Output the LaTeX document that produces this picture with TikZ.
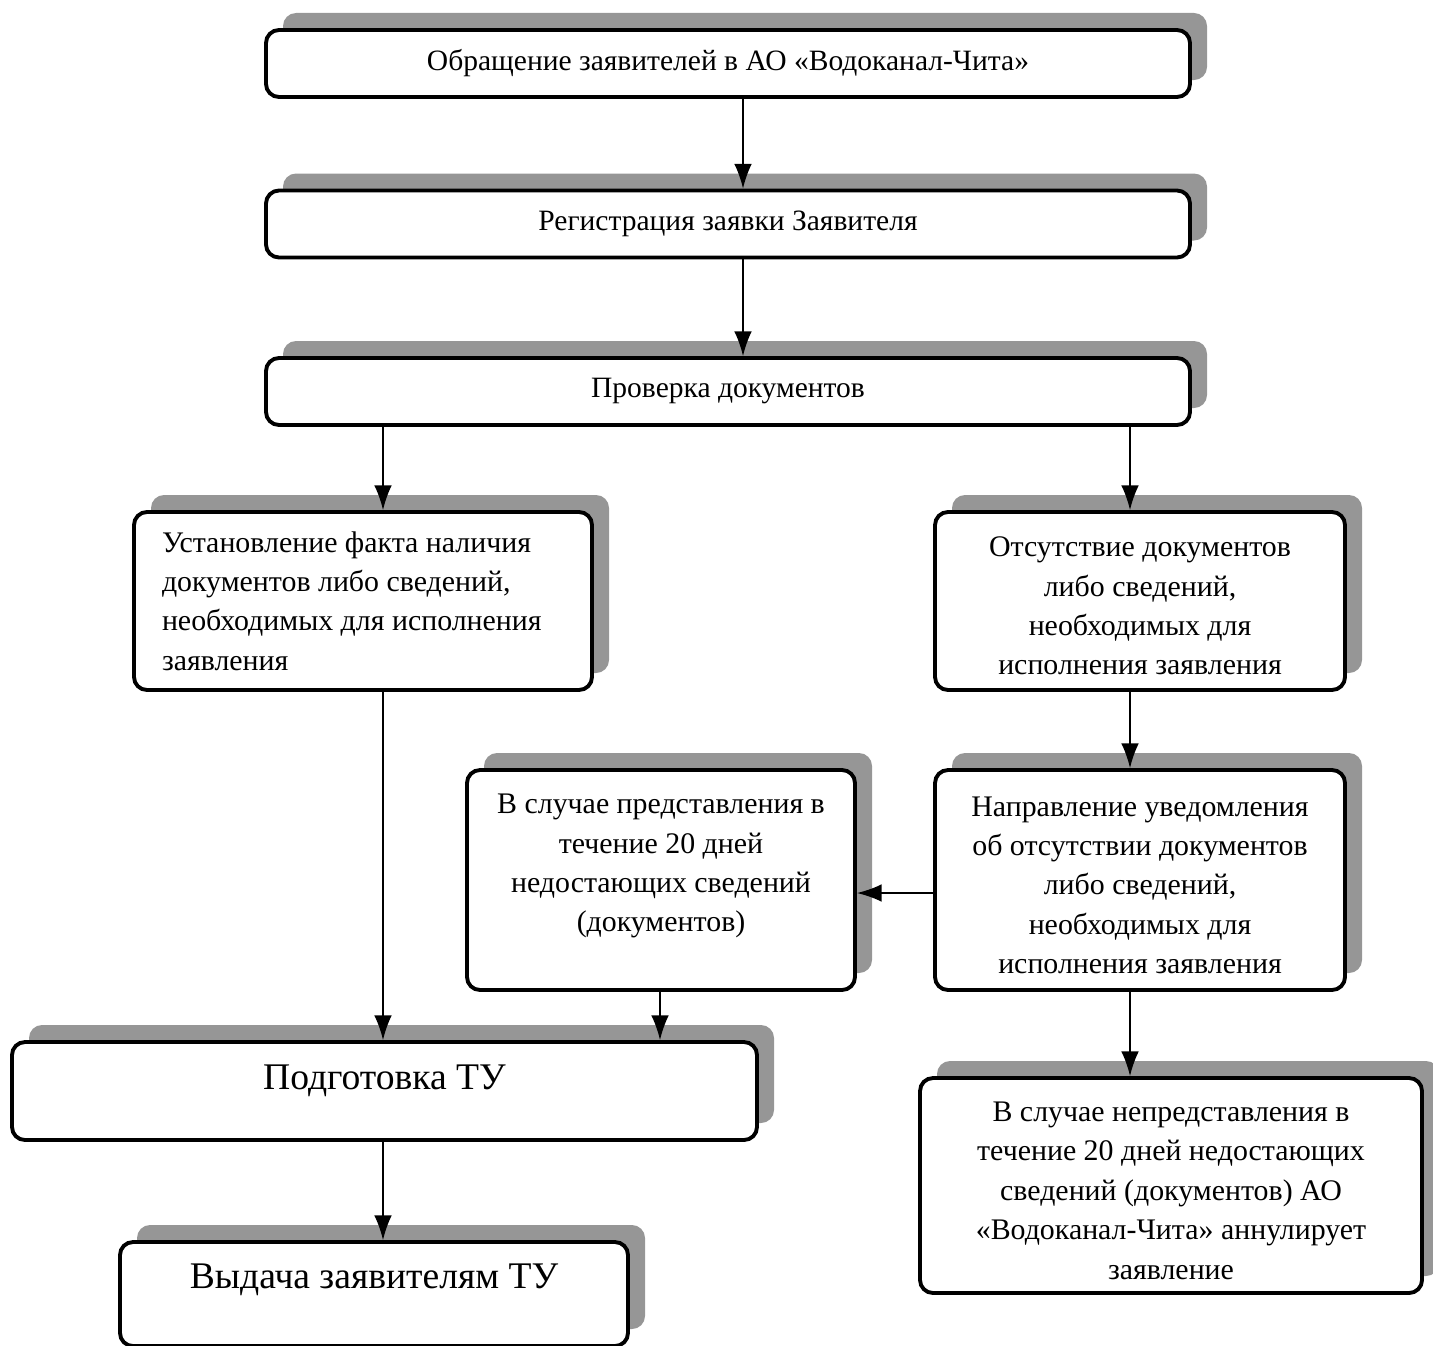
\documentclass[tikz,border=0pt]{standalone}
\usepackage{fontspec}
\setmainfont{Liberation Serif}
\usetikzlibrary{shadows,arrows.meta}
\definecolor{tenj}{RGB}{150,150,150}
\newcommand{\verkh}{\rule{0pt}{8.5pt}}

\begin{document}
\begin{tikzpicture}[x=1cm,y=1cm,
	blok/.style={draw,line width=1.1pt,rounded corners=0.13cm,fill=white,align=center,inner sep=2pt,
		font=\fontsize{8.5}{11.2}\selectfont,
		drop shadow={shadow xshift=0.17cm,shadow yshift=0.17cm,fill=tenj,opacity=1}},
	shapka/.style={blok,minimum width=9.24cm,minimum height=0.67cm,font=\fontsize{8.4}{10}\selectfont},
	strelka/.style={draw,line width=0.5pt,-{Latex[length=7pt,width=5pt]}}
]
	\useasboundingbox (0,0) rectangle (14.33,-13.45);
	% verkhnie bloki
	\node[shapka] (obr) at (7.28,-0.635) {Обращение заявителей в АО «Водоканал-Чита»};
	\node[shapka] (reg) at (7.28,-2.24) {Регистрация заявки Заявителя};
	\node[shapka] (prov) at (7.28,-3.915) {Проверка документов};
	% razvilka
	\node[blok,minimum width=4.58cm,minimum height=1.78cm,text width=4.02cm,align=flush left] (ust) at (3.63,-6.01)
		{Установление факта наличия\\документов либо сведений,\\необходимых для исполнения\\заявления};
	\node[blok,minimum width=4.10cm,minimum height=1.78cm] (ots) at (11.40,-6.01)
		{\verkh Отсутствие документов\\либо сведений,\\необходимых для\\исполнения заявления};
	\node[blok,minimum width=3.88cm,minimum height=2.20cm,text depth=0.34cm] (vsl) at (6.61,-8.80)
		{В случае представления в\\течение 20 дней\\недостающих сведений\\(документов)};
	\node[blok,minimum width=4.10cm,minimum height=2.20cm] (napr) at (11.40,-8.80)
		{\verkh Направление уведомления\\об отсутствии документов\\либо сведений,\\необходимых для\\исполнения заявления};
	\node[blok,minimum width=5.02cm,minimum height=2.15cm] (nepr) at (11.71,-11.855)
		{\verkh В случае непредставления в\\течение 20 дней недостающих\\сведений (документов) АО\\«Водоканал-Чита» аннулирует\\заявление};
	% itog
	\node[blok,minimum width=7.45cm,minimum height=0.98cm,font=\fontsize{10.7}{13}\selectfont,text depth=0.27cm] (podg) at (3.845,-10.91)
		{Подготовка ТУ};
	\node[blok,minimum width=5.08cm,minimum height=1.04cm,font=\fontsize{10.7}{13}\selectfont,text depth=0.36cm] (vyd) at (3.74,-12.94)
		{Выдача заявителям ТУ};
	% kolonki strelok
	\coordinate (k1) at (7.43,0);
	\coordinate (k2) at (3.83,0);
	\coordinate (k3) at (11.30,0);
	\coordinate (k4) at (6.60,0);
	\draw[strelka] (obr.south -| k1) -- (reg.north -| k1);
	\draw[strelka] (reg.south -| k1) -- (prov.north -| k1);
	\draw[strelka] (prov.south -| k2) -- (ust.north -| k2);
	\draw[strelka] (prov.south -| k3) -- (ots.north -| k3);
	\draw[strelka] (ots.south -| k3) -- (napr.north -| k3);
	\draw[strelka] ([yshift=-0.13cm]napr.west) -- ([yshift=-0.13cm]vsl.east);
	\draw[strelka] (ust.south -| k2) -- (podg.north -| k2);
	\draw[strelka] (vsl.south -| k4) -- (podg.north -| k4);
	\draw[strelka] (napr.south -| k3) -- (nepr.north -| k3);
	\draw[strelka] (podg.south -| k2) -- (vyd.north -| k2);
\end{tikzpicture}
\end{document}
